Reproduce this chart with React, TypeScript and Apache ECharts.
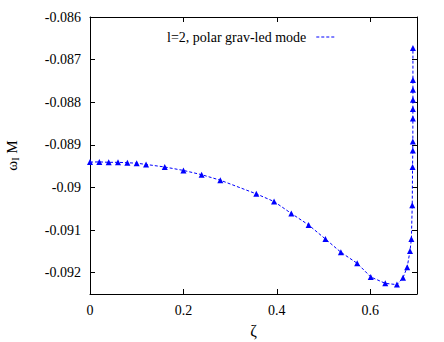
import React, { useEffect, useRef } from "react";
import * as echarts from "echarts";

const zeta = [
  0, 0.02, 0.04, 0.06, 0.08, 0.1, 0.12, 0.16, 0.2, 0.239, 0.279, 0.356, 0.394,
  0.431, 0.468, 0.504, 0.537, 0.572, 0.601, 0.632, 0.657, 0.67, 0.679, 0.685,
  0.688, 0.6898, 0.6905, 0.691, 0.6911, 0.6912, 0.6912, 0.6913, 0.6913, 0.6913,
  0.6913,
];
const omegaI = [
  -0.089405, -0.0894, -0.08941, -0.08941, -0.08942, -0.08943, -0.08946,
  -0.08952, -0.0896, -0.0897, -0.08983, -0.09015, -0.09033, -0.09061,
  -0.09088, -0.09121, -0.09152, -0.09178, -0.0921, -0.09225, -0.09228,
  -0.09212, -0.09187, -0.09149, -0.09121, -0.09042, -0.08952, -0.08913,
  -0.08892, -0.08838, -0.08816, -0.08794, -0.08771, -0.08748, -0.08673,
];
const xTicks = [0, 0.2, 0.4, 0.6];
const yTicks = [-0.092, -0.091, -0.09, -0.089, -0.088, -0.087, -0.086];
const seriesName = "l=2, polar grav-led mode";

const FONT = "'Liberation Serif', 'Times New Roman', serif";
const BLUE = "#0000ff";

export default function App() {
  const ref = useRef<HTMLDivElement>(null);
  useEffect(() => {
    if (!ref.current) return;
    const chart = echarts.init(ref.current, null, { renderer: "svg" });
    const axisCommon = {
      axisLine: { show: true, onZero: false, lineStyle: { color: "#000", width: 1 } },
      axisTick: { show: true, inside: true, length: 5, lineStyle: { color: "#000" } },
      splitLine: { show: false },
    };
    chart.setOption({
      animation: false,
      backgroundColor: "#fff",
      textStyle: { fontFamily: FONT },
      grid: {
        left: 90,
        right: 27,
        top: 17,
        bottom: 48,
        containLabel: false,
        outerBoundsMode: "none",
      },
      legend: {
        show: true,
        data: [{ name: seriesName }],
        top: 25,
        left: 162,
        align: "right",
        itemWidth: 20,
        itemHeight: 6,
        itemGap: 10,
        itemStyle: { opacity: 0 },
        lineStyle: { width: 1 },
        textStyle: { fontFamily: FONT, fontSize: 14, color: "#000", padding: [0, 5, 0, 0] },
      },
      xAxis: [
        {
          type: "value",
          min: 0,
          max: 0.7,
          position: "bottom",
          ...axisCommon,
          axisTick: { ...axisCommon.axisTick, customValues: xTicks },
          axisLabel: {
            customValues: xTicks,
            fontFamily: FONT,
            fontSize: 14,
            color: "#000",
            margin: 9,
            formatter: (v: number) => String(+v.toFixed(2)),
          },
          name: "ζ",
          nameLocation: "middle",
          nameGap: 28,
          nameTextStyle: { fontFamily: FONT, fontSize: 16, color: "#000" },
        },
        {
          type: "value",
          min: 0,
          max: 0.7,
          position: "top",
          ...axisCommon,
          axisTick: { ...axisCommon.axisTick, customValues: xTicks },
          axisLabel: { show: false },
        },
      ],
      yAxis: [
        {
          type: "value",
          min: -0.0925,
          max: -0.086,
          position: "left",
          ...axisCommon,
          axisTick: { ...axisCommon.axisTick, customValues: yTicks },
          axisLabel: {
            customValues: yTicks,
            fontFamily: FONT,
            fontSize: 14,
            color: "#000",
            margin: 9,
            formatter: (v: number) => String(+v.toFixed(3)),
          },
          name: "ω{sub|I} M",
          nameLocation: "middle",
          nameRotate: 90,
          nameGap: 70,
          nameTextStyle: {
            fontFamily: FONT,
            fontSize: 15,
            color: "#000",
            rich: {
              sub: { fontFamily: FONT, fontSize: 10, color: "#000", verticalAlign: "bottom", padding: [6, 0, 0, 0] },
            },
          },
        },
        {
          type: "value",
          min: -0.0925,
          max: -0.086,
          position: "right",
          ...axisCommon,
          axisTick: { ...axisCommon.axisTick, customValues: yTicks },
          axisLabel: { show: false },
        },
      ],
      series: [
        {
          name: seriesName,
          type: "line",
          xAxisIndex: 0,
          yAxisIndex: 0,
          data: zeta.map((z, i) => [z, omegaI[i]]),
          symbol: "triangle",
          symbolSize: 6,
          showAllSymbol: true,
          itemStyle: { color: BLUE },
          lineStyle: { color: BLUE, width: 1, type: [3, 2] },
        },
      ],
    });
    return () => chart.dispose();
  }, []);
  return (
    <div
      ref={ref}
      style={{ position: "absolute", left: 0, top: 0, width: 444, height: 342 }}
    />
  );
}
